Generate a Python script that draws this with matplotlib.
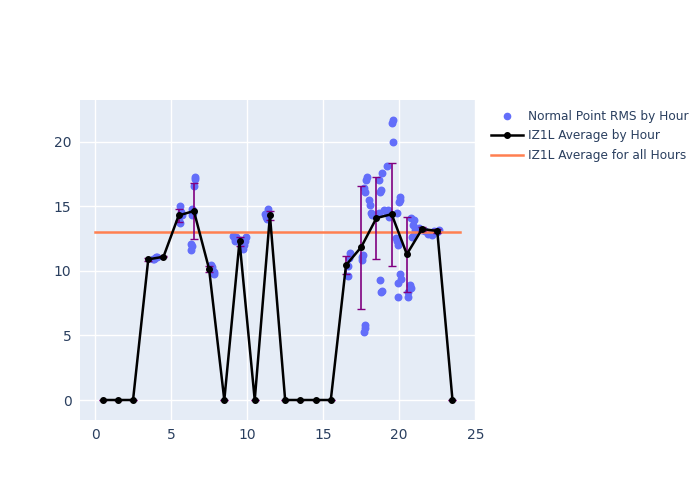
import matplotlib.pyplot as plt
import numpy as np
from matplotlib.lines import Line2D

# hourly averages (centre of each hour) and their std
hours = np.arange(0.5, 24, 1.0)
avg = [0, 0, 0, 10.9, 11.1, 14.3, 14.65, 10.15, 0, 12.3, 0, 14.3,
       0, 0, 0, 0, 10.45, 11.85, 14.1, 14.4, 11.3, 13.25, 13.1, 0]
std = [0, 0, 0, 0.1, 0.05, 0.5, 2.15, 0.2, 0, 0.35, 0, 0.33,
       0, 0, 0, 0, 0.72, 4.77, 3.15, 4.0, 2.9, 0.15, 0.15, 0]
overall = 13.0

# normal point RMS by time of day
pt_x = [3.8, 3.9, 4.0, 4.1,
        5.6, 5.65, 5.7, 5.55, 5.6,
        6.6, 6.55, 6.5, 6.4, 6.45, 6.35, 6.3, 6.35, 6.3,
        7.6, 7.7, 7.65, 7.75, 7.8, 7.85,
        9.1, 9.2, 9.2, 9.3, 9.5, 9.6, 9.7, 9.8, 9.9, 9.85,
        11.2, 11.25, 11.3, 11.35, 11.4, 11.45,
        16.75, 16.7, 16.65, 16.6,
        17.54, 17.6, 17.54, 17.76, 17.72, 17.7, 17.7, 17.75, 17.87, 17.84, 17.98,
        18.05, 18.15, 18.2, 18.64, 18.86, 18.75, 18.8, 18.64, 18.97, 18.75, 18.86, 18.82, 18.4,
        19.2, 19.27, 19.3, 19.56, 19.5, 19.56, 19.2, 19.85, 19.85, 19.8, 19.95, 19.95, 19.9,
        20.07, 20.02, 19.98, 20.07, 20.1, 20.72, 20.6, 20.57, 20.75, 20.8, 20.95, 20.9, 20.85, 20.95,
        21.05, 21.3, 21.5, 21.7, 21.9,
        22.15, 22.3, 22.5, 22.6]
pt_y = [10.9, 10.95, 11.05, 11.1,
        15.0, 14.6, 14.3, 13.9, 13.7,
        17.25, 17.15, 16.6, 14.8, 14.5, 14.3, 12.1, 11.9, 11.6,
        10.5, 10.3, 10.2, 10.0, 9.9, 9.8,
        12.7, 12.5, 12.3, 12.6, 12.4, 11.9, 11.7, 12.0, 12.6, 12.3,
        14.4, 14.2, 14.0, 14.8, 14.6, 14.3,
        11.4, 11.0, 10.4, 9.6,
        11.1, 11.24, 10.85, 5.8, 5.55, 5.3, 16.4, 16.15, 17.3, 17.05, 15.5,
        15.1, 14.5, 14.35, 17.05, 17.6, 16.15, 16.3, 14.5, 14.7, 9.3, 8.47, 8.4, 14.35,
        14.5, 14.7, 14.2, 21.7, 21.45, 20.0, 18.1, 14.47, 12.3, 12.55, 9.05, 8.0, 12.0,
        15.76, 15.5, 15.37, 9.8, 9.35, 8.9, 8.4, 8.0, 8.7, 14.1, 13.95, 13.57, 12.6, 12.8,
        13.2, 13.3, 13.2, 13.1, 12.9,
        12.8, 13.1, 13.05, 13.2]

fig = plt.figure(figsize=(7, 5), dpi=100)
ax = fig.add_axes([0.114, 0.16, 0.565, 0.64])
ax.set_facecolor('#E5ECF6')
for s in ax.spines.values():
    s.set_visible(False)
ax.grid(True, color='white', linewidth=1)
ax.set_axisbelow(True)

ax.scatter(pt_x, pt_y, s=22, color='#636efa', zorder=2)
ax.errorbar(hours, avg, yerr=std, ecolor='purple', elinewidth=1.2, capsize=3,
            color='black', marker='o', markersize=4, linewidth=1.8, zorder=3)
ax.plot([0, 24], [overall, overall], color='#FF7F50', linewidth=1.8, zorder=2)

ax.set_xlim(-1, 25)
ax.set_ylim(-1.55, 23.25)
ax.set_xticks([0, 5, 10, 15, 20, 25])
ax.set_yticks([0, 5, 10, 15, 20])
ax.tick_params(length=0, labelsize=10, colors='#2a3f5f', pad=6)

handles = [Line2D([], [], color='#636efa', marker='o', markersize=4.5, linestyle='none'),
           Line2D([], [], color='black', marker='o', markersize=4, linewidth=1.8),
           Line2D([], [], color='#FF7F50', linewidth=1.8)]
labels = ['Normal Point RMS by Hour', 'IZ1L Average by Hour', 'IZ1L Average for all Hours']
fig.legend(handles, labels, loc='upper left', bbox_to_anchor=(0.695, 0.79), frameon=False,
           fontsize=8.7, labelcolor='#2a3f5f', handlelength=2.6, handletextpad=0.45,
           labelspacing=0.55, borderaxespad=0)

fig.savefig('out.png')
